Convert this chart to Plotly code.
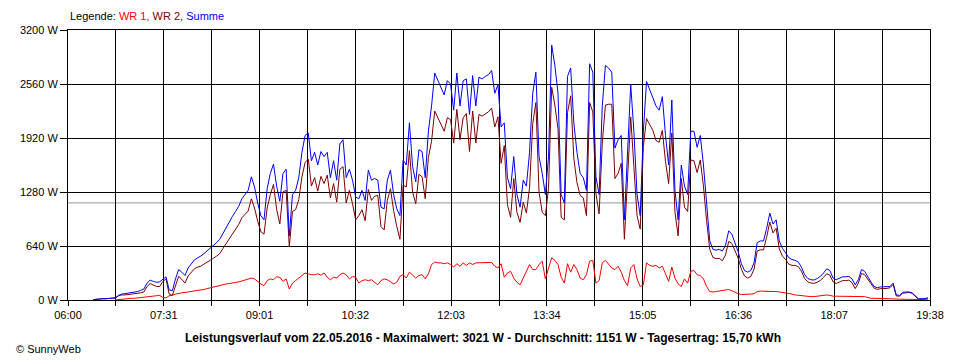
import plotly.graph_objects as go

# ---------------- data ----------------
start_min = 24          # first sample, minutes after 06:00
step_min = 3            # sampling interval in minutes
day_span_min = 818      # 06:00 .. 19:38

x_labels = ["06:00", "07:31", "09:01", "10:32", "12:03", "13:34", "15:05", "16:36", "18:07", "19:38"]
y_ticks = [0, 640, 1280, 1920, 2560, 3200]
average_w = 1151

wr1 = [
    None, None, None, None, None, None, None, 0, 5, 10,
    15, 15, 20, 20, 25, 30, 35, 40, 40, 45,
    50, 55, 30, 25, 50, 55, 70, 80, 85, 90,
    95, 100, 105, 110, 120, 125, 135, 145, 155, 160,
    170, 180, 190, 195, 200, 205, 215, 225, 237, 245,
    260, 250, 215, 190, 170, 230, 250, 240, 275, 270,
    220, 250, 130, 200, 230, 260, 290, 320, 310, 300,
    300, 310, 295, 320, 270, 240, 270, 260, 300, 320,
    300, 250, 280, 270, 200, 230, 240, 230, 240, 210,
    180, 230, 250, 240, 220, 190, 210, 280, 300, 260,
    330, 300, 260, 290, 300, 250, 310, 420, 450, 440,
    440, 430, 440, 420, 390, 430, 400, 440, 410, 440,
    420, 440, 440, 440, 445, 440, 445, 400, 380, 430,
    270, 320, 340, 260, 210, 180, 260, 320, 420, 360,
    360, 420, 460, 250, 380, 500, 470, 420, 270, 200,
    430, 330, 420, 360, 260, 240, 300, 460, 470, 200,
    230, 440, 470, 430, 380, 360, 400, 330, 230, 170,
    380, 420, 250, 160, 180, 440, 410, 400, 410, 380,
    400, 310, 220, 390, 260, 190, 160, 250, 200, 340,
    350, 300, 290, 250, 160, 100, 95, 100, 105, 115,
    115, 125, 110, 90, 75, 65, 65, 70, 70, 75,
    100, 105, 105, 105, 105, 105, 100, 95, 90, 80,
    75, 70, 60, 55, 47, 45, 40, 40, 40, 45,
    47, 50, 60, 55, 45, 45, 45, 45, 45, 45,
    45, 45, 40, 45, 40, 30, 20, 20, 20, 20,
    20, 18, 15, 15, 12, 10, 10, 8, 5, 5,
    5, 5, 5, 3, 3,
]

wr2 = [
    5, 10, 10, 15, 15, 20, 20, 25, 50, 60,
    60, 65, 70, 75, 75, 85, 95, 160, 195, 175,
    160, 160, 220, 250, 70, 55, 180, 280, 245, 200,
    285, 330, 370, 390, 400, 425, 445, 465, 495, 520,
    550, 610, 670, 725, 790, 845, 895, 975, 1013, 1055,
    1200, 1090, 935, 810, 780, 1090, 1250, 1370, 1075, 900,
    1280, 1300, 630, 1050, 1070, 1190, 1460, 1630, 1670, 1350,
    1450, 1290, 1465, 1380, 1480, 1210, 1380, 1160, 1550, 1580,
    1150, 1300, 1140, 950, 1000, 1070, 940, 1310, 1180, 1230,
    1240, 870, 830, 1180, 1320, 1060, 870, 720, 1360, 1340,
    1770, 1280, 1140, 1490, 1460, 1200, 1690, 1880, 2240, 2160,
    2080, 2000, 2160, 2140, 1860, 2260, 1900, 2160, 2210, 1760,
    2240, 1860, 2200, 2180, 2205, 2230, 2275, 2050, 2170, 1620,
    1830, 1130, 980, 1440, 1040, 920, 1160, 1030, 1330, 2090,
    2340, 1280, 1040, 1000, 1320, 2521, 2310, 2030, 980, 950,
    2220, 2420, 1680, 1390, 1240, 1210, 1000, 2340, 2230, 1260,
    1020, 1860, 2310, 2320, 2320, 1440, 1500, 1620, 720, 1530,
    2170, 1580, 1000, 840, 1820, 2150, 2080, 2010, 1890, 1870,
    2010, 1640, 1380, 1980, 1040, 760, 1440, 1100, 1050, 1660,
    1650, 1510, 1660, 1350, 940, 600, 505, 490, 495, 465,
    535, 695, 670, 590, 495, 365, 285, 260, 280, 365,
    580, 595, 595, 745, 925, 795, 850, 605, 520, 480,
    425, 410, 410, 395, 343, 255, 215, 200, 197, 210,
    233, 270, 310, 295, 215, 195, 215, 230, 230, 235,
    205, 135, 200, 315, 300, 240, 193, 140, 125, 135,
    135, 137, 145, 185, 48, 45, 80, 87, 90, 80,
    45, 10, 10, 12, 22,
]

summe = [
    5, 10, 10, 15, 15, 20, 20, 25, 55, 70,
    75, 80, 90, 95, 100, 115, 130, 200, 235, 220,
    210, 215, 250, 275, 120, 110, 250, 360, 330, 290,
    380, 430, 475, 500, 520, 550, 580, 610, 650, 680,
    720, 790, 860, 920, 990, 1050, 1110, 1200, 1250, 1300,
    1460, 1340, 1150, 1000, 950, 1320, 1500, 1610, 1350, 1170,
    1500, 1550, 760, 1250, 1300, 1450, 1750, 1950, 1980, 1650,
    1750, 1600, 1760, 1700, 1750, 1450, 1650, 1420, 1850, 1900,
    1450, 1550, 1420, 1220, 1200, 1300, 1180, 1540, 1420, 1440,
    1420, 1100, 1080, 1420, 1540, 1250, 1080, 1000, 1660, 1600,
    2100, 1580, 1400, 1780, 1760, 1450, 2000, 2300, 2690, 2600,
    2520, 2430, 2600, 2560, 2250, 2690, 2300, 2600, 2620, 2200,
    2660, 2300, 2640, 2620, 2650, 2670, 2720, 2450, 2550, 2050,
    2100, 1450, 1320, 1700, 1250, 1100, 1420, 1350, 1750, 2450,
    2700, 1700, 1500, 1250, 1700, 3021, 2780, 2450, 1250, 1150,
    2650, 2750, 2100, 1750, 1500, 1450, 1300, 2800, 2700, 1460,
    1250, 2300, 2780, 2750, 2700, 1800, 1900, 1950, 950, 1700,
    2550, 2000, 1250, 1000, 2000, 2590, 2490, 2410, 2300, 2250,
    2410, 1950, 1600, 2370, 1300, 950, 1600, 1350, 1250, 2000,
    2000, 1810, 1950, 1600, 1100, 700, 600, 590, 600, 580,
    650, 820, 780, 680, 570, 430, 350, 330, 350, 440,
    680, 700, 700, 850, 1030, 900, 950, 700, 610, 560,
    500, 480, 470, 450, 390, 300, 255, 240, 237, 255,
    280, 320, 370, 350, 260, 240, 260, 275, 275, 280,
    250, 180, 240, 360, 340, 270, 213, 160, 145, 155,
    155, 155, 160, 200, 60, 55, 90, 95, 95, 85,
    50, 15, 15, 15, 25,
]

# ---------------- figure ----------------
minutes = [start_min + step_min * i for i in range(len(summe))]

FONT = "Liberation Sans, Arial, sans-serif"

fig = go.Figure()
fig.add_trace(go.Scatter(x=minutes, y=wr1, mode="lines", name="WR 1",
                         line=dict(color="#ff0000", width=1), connectgaps=False))
fig.add_trace(go.Scatter(x=minutes, y=wr2, mode="lines", name="WR 2",
                         line=dict(color="#800000", width=1)))
fig.add_trace(go.Scatter(x=minutes, y=summe, mode="lines", name="Summe",
                         line=dict(color="#0000ff", width=1)))

# average line
fig.add_shape(type="line", xref="paper", x0=0, x1=1, yref="y", y0=average_w, y1=average_w,
              line=dict(color="#999999", width=1), layer="between")

n_grid = 2 * (len(x_labels) - 1)
tickvals = [day_span_min * k / n_grid for k in range(n_grid + 1)]
ticktext = [x_labels[k // 2] if k % 2 == 0 else "" for k in range(n_grid + 1)]

# page body has an 8px margin, so the figure is 8px smaller with 8px less margin
fig.update_layout(
    width=952, height=352,
    margin=dict(l=52, r=30, t=22, b=60),
    paper_bgcolor="white", plot_bgcolor="white",
    showlegend=False,
    font=dict(family=FONT, size=11, color="black"),
    xaxis=dict(range=[0, day_span_min], tickmode="array", tickvals=tickvals, ticktext=ticktext,
               showgrid=True, gridcolor="black", gridwidth=1, zeroline=False,
               showline=True, linecolor="black", linewidth=1, mirror=True,
               ticks="outside", ticklen=5, tickcolor="black",
               tickfont=dict(family=FONT, size=11, color="black")),
    yaxis=dict(range=[0, 3200], tickmode="array", tickvals=y_ticks,
               ticktext=[f"{v} W" for v in y_ticks],
               showgrid=True, gridcolor="black", gridwidth=1, zeroline=False,
               showline=True, linecolor="black", linewidth=1, mirror=True,
               ticks="outside", ticklen=7, tickcolor="black",
               tickfont=dict(family=FONT, size=11, color="black")),
)

legend_html = ("Legende: <span style='color:#ff0000'>WR 1,</span> "
               "<span style='color:#800000'>WR 2,</span> "
               "<span style='color:#0000ff'>Summe</span>")
fig.add_annotation(text=legend_html, xref="paper", yref="paper", x=0, y=1.052,
                   xanchor="left", yanchor="middle", showarrow=False,
                   font=dict(family=FONT, size=11, color="black"))

title_text = ("<b>Leistungsverlauf vom 22.05.2016 - Maximalwert: 3021 W - "
              "Durchschnitt: 1151 W - Tagesertrag: 15,70 kWh</b>")
fig.add_annotation(text=title_text, xref="paper", yref="paper", x=0.4816, y=-0.1407,
                   xanchor="center", yanchor="middle", showarrow=False,
                   font=dict(family=FONT, size=12, color="black"))

fig.add_annotation(text="© SunnyWeb", xref="paper", yref="paper", x=-0.0632, y=-0.181,
                   xanchor="left", yanchor="middle", showarrow=False,
                   font=dict(family=FONT, size=11, color="black"))

fig.write_html("out.html")
